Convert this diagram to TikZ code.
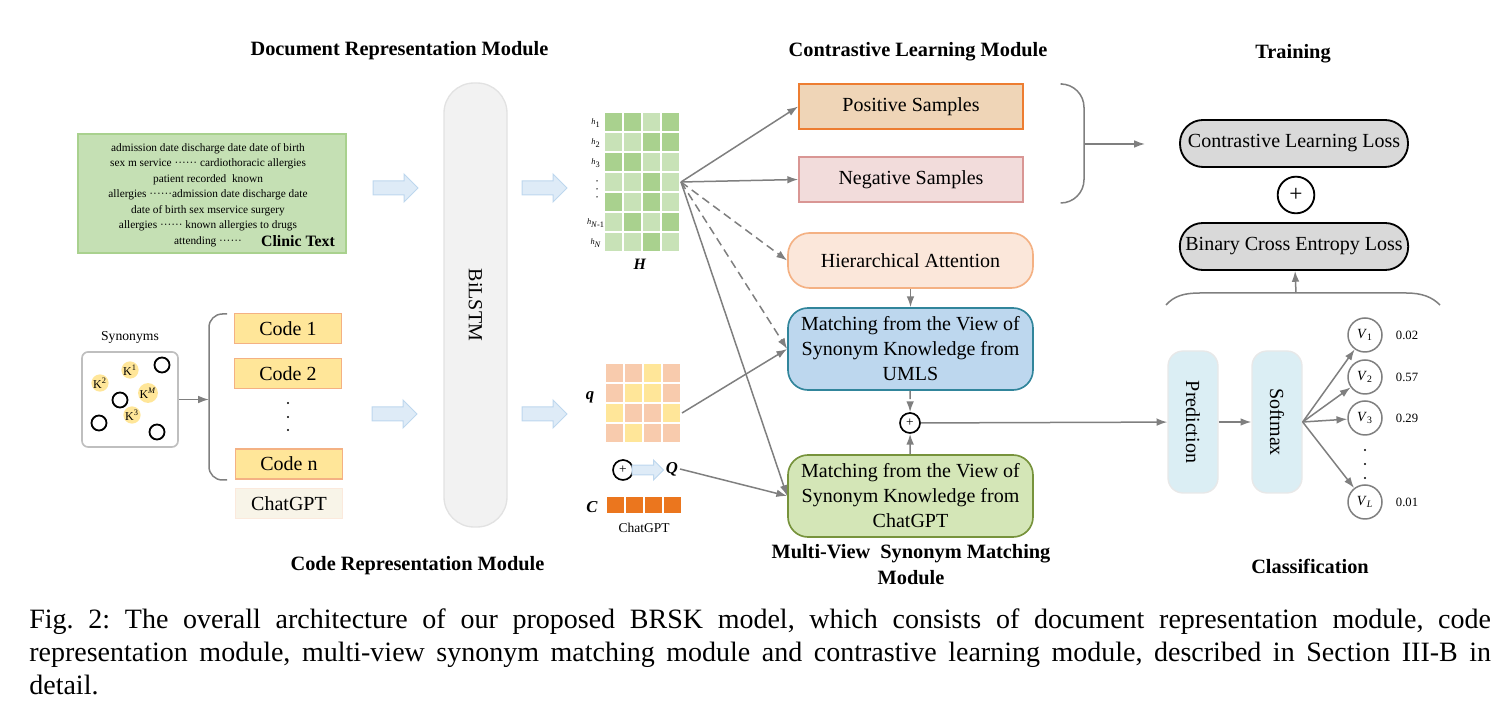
\documentclass[tikz,border=0pt]{standalone}
\usepackage{fontspec}
\setmainfont{Liberation Serif}
\usetikzlibrary{arrows,arrows.meta,positioning,calc}

\definecolor{linegray}{RGB}{127,127,127}
\definecolor{clinicfill}{RGB}{197,224,180}
\definecolor{clinicedge}{RGB}{169,209,142}
\definecolor{hD}{RGB}{169,209,142}
\definecolor{hL}{RGB}{200,226,183}
\definecolor{qO}{RGB}{248,203,173}
\definecolor{qY}{RGB}{255,230,153}
\definecolor{cO}{RGB}{235,118,30}
\definecolor{kfill}{RGB}{255,230,153}
\definecolor{syngray}{RGB}{191,191,191}
\definecolor{codefill}{RGB}{255,230,153}
\definecolor{codeedge}{RGB}{244,177,131}
\definecolor{gptfill}{RGB}{248,244,232}
\definecolor{gptedge}{RGB}{251,233,220}
\definecolor{bifill}{RGB}{242,242,242}
\definecolor{biedge}{RGB}{226,226,226}
\definecolor{arrowfill}{RGB}{222,235,247}
\definecolor{arrowedge}{RGB}{189,215,238}
\definecolor{posfill}{RGB}{239,213,183}
\definecolor{posedge}{RGB}{237,125,49}
\definecolor{negfill}{RGB}{242,220,219}
\definecolor{negedge}{RGB}{217,150,148}
\definecolor{hattfill}{RGB}{251,231,218}
\definecolor{hattedge}{RGB}{244,177,131}
\definecolor{umlsfill}{RGB}{189,215,238}
\definecolor{umlsedge}{RGB}{49,133,155}
\definecolor{gptmfill}{RGB}{212,230,183}
\definecolor{gptmedge}{RGB}{119,147,60}
\definecolor{lossfill}{RGB}{217,217,217}
\definecolor{softfill}{RGB}{219,238,244}
\definecolor{softedge}{RGB}{232,232,232}

\begin{document}
\begin{tikzpicture}
[x=0.6pt,y=-0.6pt,>={Latex[length=6.5pt,width=4.6pt]},
every node/.style={font=\fontsize{12}{15}\selectfont},
title/.style={font=\fontsize{12.2}{15.6}\selectfont\bfseries,align=center},
conn/.style={draw=linegray,line width=0.9pt,->},
dashconn/.style={conn,dash pattern=on 5pt off 3pt},
box/.style={draw,line width=1pt,minimum width=134.4pt,minimum height=27pt,inner sep=2pt},
pill/.style={draw,line width=1pt,minimum width=147pt,align=center,inner sep=2pt},
codebox/.style={draw=codeedge,fill=codefill,line width=1pt,minimum width=64.2pt,minimum height=18pt,inner sep=0pt},
kn/.style={circle,fill=kfill,minimum size=10pt,inner sep=0pt,font=\fontsize{7.2}{8}\selectfont},
ring/.style={circle,draw,line width=1.1pt,minimum size=9pt,inner sep=0pt},
plus/.style={circle,draw,line width=1pt,minimum size=12pt,inner sep=0pt,font=\fontsize{8}{8}\selectfont},
loss/.style={draw,line width=1.1pt,fill=lossfill,rounded corners=13.8pt,minimum width=136.8pt,minimum height=28.2pt},
soft/.style={draw=softedge,fill=softfill,line width=0.8pt,rounded corners=9pt,minimum width=85.2pt,minimum height=30pt,rotate=-90},
vnode/.style={circle,draw=linegray,line width=0.9pt,minimum size=20.4pt,inner sep=0pt,font=\fontsize{8.4}{9}\selectfont},
num/.style={font=\fontsize{7.6}{9}\selectfont},
small/.style={font=\fontsize{5}{6}\selectfont,inner sep=0pt},
blockarr/.pic={\draw[draw=arrowedge,fill=arrowfill,line width=0.6pt]
  (0,-7) -- (31,-7) -- (31,-14) -- (45,0) -- (31,14) -- (31,7) -- (0,7) -- cycle;}]
\useasboundingbox (0,0) rectangle (1509,727);

% titles
\node[title] (tdoc) at (399.5,51) {Document Representation Module};
\node[title] (tcl) at (918,52) {Contrastive Learning Module};
\node[title] (ttr) at (1293,54) {Training};
\node[title] (tcode) at (417.5,566) {Code Representation Module};
\node[title] (tmv) at (911,565) {Multi-View\ \ Synonym Matching\\Module};
\node[title] (tcls) at (1310,566) {Classification};

% document side
\node[draw=clinicedge,fill=clinicfill,line width=1.2pt,minimum width=160.8pt,minimum height=71.4pt] (clinic) at (212,193.5) {};
\node[font=\fontsize{6.8}{9.3}\selectfont,align=center] (ctext) at (208,195)
  {admission date discharge date date of birth\\
   sex m service ······ cardiothoracic allergies\\
   patient recorded\ \ known\\
   allergies ······admission date discharge date\\
   date of birth sex mservice surgery\\
   allergies ······ known allergies to drugs\\
   attending ······};
\node[font=\fontsize{9.5}{11}\selectfont\bfseries] (clab) at (298,241) {Clinic Text};

% code side
\node[font=\fontsize{8.2}{10}\selectfont] (synlab) at (130,337) {Synonyms};
\node[draw=syngray,line width=1pt,rounded corners=3.6pt,minimum width=57.6pt,minimum height=57pt] (syn) at (130,399.5) {};
\node[kn] (k1) at (130,370) {K\textsuperscript{1}};
\node[kn] (k2) at (100,383) {K\textsuperscript{2}};
\node[kn] (km) at (148,393) {K\textsuperscript{\textit{M}}};
\node[kn] (k3) at (132,415) {K\textsuperscript{3}};
\node[ring] (r1) at (162,365) {};
\node[ring] (r2) at (120,400) {};
\node[ring] (r3) at (99,423) {};
\node[ring] (r4) at (157,432) {};

\draw[linegray,line width=0.9pt,rounded corners=8pt] (227,314) -- (209,314) -- (209,480) -- (227,480);
\coordinate (brk) at (209,399.5);
\draw[conn] (syn.east) -- (brk);

\node[codebox] (c1) at (288,328.5) {Code 1};
\node[codebox] (c2) at (288,373.5) {Code 2};
\node[codebox] (cn) at (289,464) {Code n};
\node[codebox,draw=gptedge,fill=gptfill] (cgpt) at (289,503.5) {ChatGPT};
\foreach \y in {403,417,430} \fill (288,\y) circle (0.7pt);

% encoder
\node[draw=biedge,fill=bifill,line width=0.8pt,rounded corners=18pt,rotate=-90,
  minimum width=266.4pt,minimum height=37.8pt] (bilstm) at (475.5,305) {BiLSTM};
\pic at (373,188) {blockarr};
\pic at (372,414) {blockarr};
\pic at (522,188) {blockarr};
\pic at (522,414) {blockarr};

% H matrix
\foreach \row [count=\j from 0] in {{D,D,L,D},{L,L,D,D},{D,D,L,L},{L,L,D,L},{D,L,D,L},{L,D,L,D},{L,L,D,L}}
  \foreach \c [count=\i from 0] in \row
    \fill[h\c] ({605+19*\i},{113+20*\j}) rectangle +(17,18);
\foreach \lab/\y in {1/123,2/143,3/163,{\textit{N}-1}/223,\textit{N}/243}
  \node[small] at (596,\y) {\textit{h}\textsubscript{\lab}};
\foreach \y in {181,189,197} \fill (597,\y) circle (0.45pt);
\node[font=\fontsize{9.5}{10}\selectfont] (hlab) at (640,264) {\textbf{\textit{H}}};
\coordinate (hout) at (681,182);

% q matrix
\foreach \row [count=\j from 0] in {{O,O,Y,O},{O,Y,Y,O},{Y,O,O,Y},{O,Y,O,O}}
  \foreach \c [count=\i from 0] in \row
    \fill[q\c] ({606+19*\i},{364+20*\j}) rectangle +(17,18);
\node[font=\fontsize{10}{10}\selectfont] (qlab) at (590,397) {\textbf{\textit{q}}};
\coordinate (qout) at (682,413);

\node[plus] (pq) at (623,470) {+};
\pic[scale=0.7] at (632,470) {blockarr};
\node[font=\fontsize{10}{10}\selectfont,inner sep=1pt] (Qlab) at (672,469) {\textbf{\textit{Q}}};

\foreach \i in {0,...,3} \fill[cO] ({607+19*\i},497) rectangle +(17,16);
\node[font=\fontsize{10}{10}\selectfont] (clab2) at (592,507) {\textbf{\textit{C}}};
\node[font=\fontsize{8.1}{9}\selectfont] (cgptlab) at (644,528) {ChatGPT};

% matching and contrastive
\node[box,draw=posedge,fill=posfill] (pos) at (911,106.5) {Positive Samples};
\node[box,draw=negedge,fill=negfill] (neg) at (911,179.5) {Negative Samples};
\node[pill,draw=hattedge,fill=hattfill,rounded corners=13pt,minimum height=33pt] (hatt) at (910.5,260.5) {Hierarchical Attention};
\node[pill,draw=umlsedge,fill=umlsfill,rounded corners=12pt,minimum height=49.2pt] (umls) at (910.5,349)
  {Matching from the View of\\Synonym Knowledge from\\UMLS};
\node[pill,draw=gptmedge,fill=gptmfill,rounded corners=12pt,minimum height=49.2pt] (gptm) at (910.5,496)
  {Matching from the View of\\Synonym Knowledge from\\ChatGPT};
\node[plus] (pm) at (910,423) {+};

\draw[conn] (hout) -- (pos.west);
\draw[conn] (hout) -- (neg.west);
\draw[dashconn] (hout) -- (hatt.west);
\draw[dashconn] (hout) -- (umls.west);
\draw[conn] (hout) -- (gptm.west);
\draw[conn] (qout) -- (umls.west);
\draw[conn] (Qlab.east) -- (gptm.west);
\draw[conn] (hatt) -- (umls);
\draw[dashconn] (umls) -- (pm);
\draw[conn] (gptm) -- (pm);

% training
\draw[linegray,line width=0.9pt,rounded corners=14pt] (1062,84) -- (1084,84) -- (1084,203) -- (1062,203);
\coordinate (cbr) at (1084,144);
\coordinate (cllin) at (1145,144);
\draw[conn] (cbr) -- (cllin);
\node[loss] (cll) at (1294,143.5) {Contrastive Learning Loss};
\node[plus,minimum size=22pt,line width=1.1pt,font=\fontsize{14}{14}\selectfont] (pt) at (1296,195) {+};
\node[loss] (bce) at (1294,246.5) {Binary Cross Entropy Loss};
\draw[linegray,line width=0.9pt] (1166,305) .. controls (1174,296) and (1184,293) .. (1200,293)
  -- (1406,293) .. controls (1422,293) and (1432,297) .. (1440,305);
\coordinate (bbr) at (1296,293);
\draw[conn] (bbr) -- (bce);

% classification
\node[soft] (pred) at (1193,422) {Prediction};
\node[soft] (smax) at (1277,422) {Softmax};
\draw[conn] (pm) -- (pred);
\draw[conn] (pred) -- (smax);
\node[vnode] (v1) at (1365,335) {\textit{V}\textsubscript{1}};
\node[vnode] (v2) at (1365,377) {\textit{V}\textsubscript{2}};
\node[vnode] (v3) at (1365,418) {\textit{V}\textsubscript{3}};
\node[vnode] (vl) at (1365,502) {\textit{V}\textsubscript{\textit{L}}};
\foreach \y in {450,464,478} \fill (1365,\y) circle (0.7pt);
\foreach \v in {v1,v2,v3,vl} \draw[conn] (smax.north) -- (\v);
\node[num] (n1) at (1407,335) {0.02};
\node[num] (n2) at (1407,377) {0.57};
\node[num] (n3) at (1407,418) {0.29};
\node[num] (nl) at (1407,502) {0.01};

% caption
\node[anchor=north west,inner sep=0pt,text width=877pt,align=justify,font=\fontsize{16.8}{19.8}\selectfont\frenchspacing] (cap) at (29,608)
  {Fig.\ 2: The overall architecture of our proposed BRSK model, which consists of document representation module, code\linebreak
   representation module, multi-view synonym matching module and contrastive learning module, described in Section III-B in\linebreak
   detail.};
\end{tikzpicture}
\end{document}
